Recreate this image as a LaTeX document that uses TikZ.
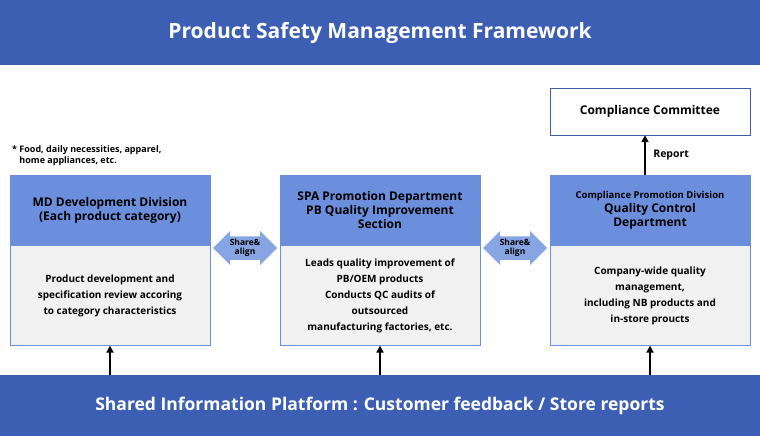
\documentclass[tikz,border=0pt]{standalone}
\usepackage{fontspec}
\setmainfont{Open Sans}
\usetikzlibrary{shapes.arrows,positioning,arrows.meta}
\definecolor{banner}{HTML}{3D5FB3}
\definecolor{headblue}{HTML}{6C8FDD}
\definecolor{bodygrey}{HTML}{F1F1F1}
\definecolor{arrowblue}{HTML}{87A5E3}
\tikzset{
  banner/.style={fill=banner, text=white, font=\bfseries},
  head/.style={draw=headblue, fill=headblue, minimum width=200pt, minimum height=70pt, inner sep=0pt, align=center, font=\bfseries\fontsize{12}{14}\selectfont},
  body/.style={draw=headblue, fill=bodygrey, minimum width=200pt, minimum height=100pt, inner sep=0pt, align=center, font=\bfseries\fontsize{10}{16}\selectfont},
  share/.style={double arrow, double arrow head extend=4pt, fill=arrowblue, minimum width=34pt, minimum height=64pt, inner sep=0pt, align=center, font=\bfseries\fontsize{8.5}{9}\selectfont},
  up/.style={-{Triangle[length=7pt,width=7pt]}, line width=2pt}
}
\begin{document}
\begin{tikzpicture}[x=1pt, y=-1pt]
   \useasboundingbox (0,0) rectangle (760,436);
   % banners
   \node (title) [banner, minimum width=760pt, minimum height=65pt, inner sep=0pt, font=\bfseries\fontsize{21}{24}\selectfont] at (380,32.5) {Product Safety Management Framework};
   \node (platform) [banner, minimum width=760pt, minimum height=61pt, inner sep=0pt, font=\bfseries\fontsize{17.5}{20}\selectfont] at (380,405.5) {Shared Information Platform : Customer feedback / Store reports};
   % division boxes
   \node (mdh) [head] at (110,210) {MD Development Division\\(Each product category)};
   \node (mdb) [body, below=0pt of mdh] {Product development and\\specification review accoring\\to category characteristics};
   \node (spah) [head] at (380,210) {SPA Promotion Department\\PB Quality Improvement\\Section};
   \node (spab) [body, below=0pt of spah] {Leads quality improvement of\\PB/OEM products\\Conducts QC audits of\\outsourced\\manufacturing factories, etc.};
   \node (qch) [head] at (650,210) {{\fontsize{9.5}{12}\selectfont Compliance Promotion Division}\\Quality Control\\Department};
   \node (qcb) [body, below=0pt of qch] {Company-wide quality\\management,\\including NB products and\\in-store proucts};
   \node (cc) [draw=banner, fill=white, minimum width=200pt, minimum height=47pt, inner sep=0pt, font=\bfseries\fontsize{12}{14}\selectfont] at (650,111.5) {Compliance Committee};
   \node (note) [anchor=north west, align=left, inner sep=0pt, font=\bfseries\fontsize{9}{11}\selectfont] at (12,145) {* Food, daily necessities, apparel,\\\phantom{* }home appliances, etc.};
   % share arrows
   \node (sh1) [share] at (245,248) {Share\&\\align};
   \node (sh2) [share] at (515,248) {Share\&\\align};
   % arrows
   \draw[up] (platform.north -| mdb) -- (mdb.south);
   \draw[up] (platform.north -| spab) -- (spab.south);
   \draw[up] (platform.north -| qcb) -- (qcb.south);
   \draw[up] ([xshift=-5pt]qch.north) -- node[right=4pt, font=\bfseries\fontsize{10.5}{12}\selectfont]{Report} ([xshift=-5pt]cc.south);
\end{tikzpicture}
\end{document}
